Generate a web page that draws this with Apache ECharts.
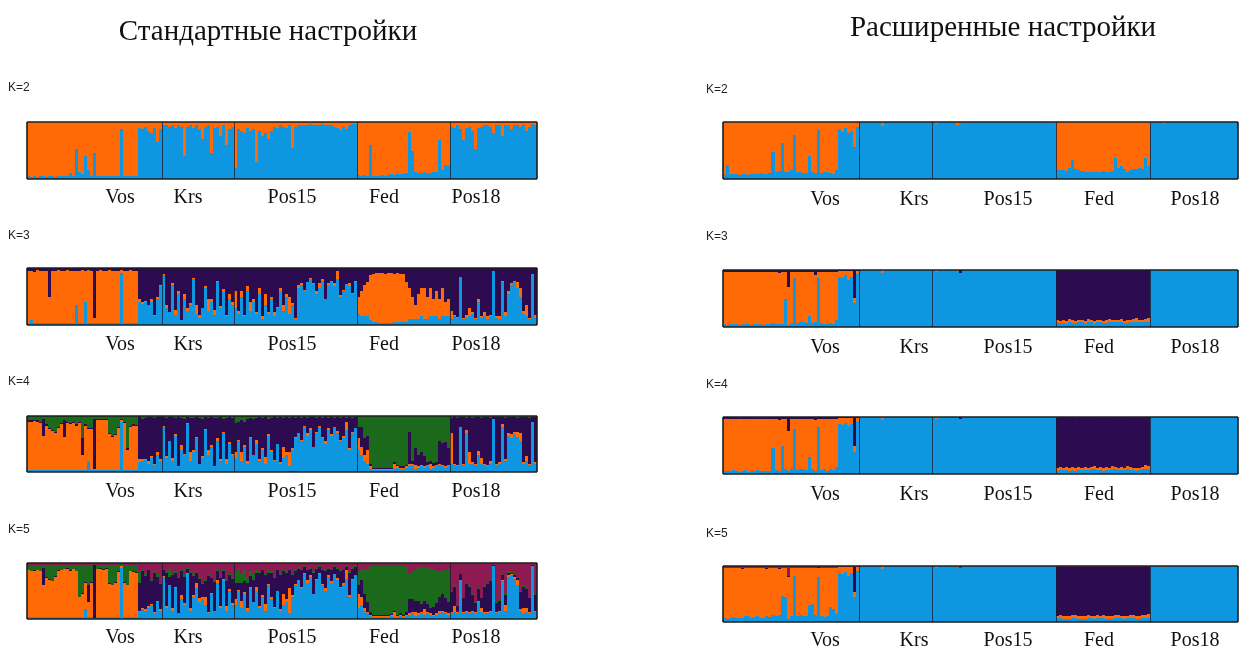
<!DOCTYPE html>
<html><head><meta charset="utf-8">
<script src="https://cdn.jsdelivr.net/npm/echarts/dist/echarts.min.js"></script>
<style>html,body{margin:0;padding:0;background:#fff}#c{width:1241px;height:649px}</style>
</head><body><div id="c"></div>
<script>
// ---------- DATA ----------
const populations = ['Vos','Krs','Pos15','Fed','Pos18'];
const popSizes = [45,24,41,31,29];
const kLabels = ['K=2','K=3','K=4','K=5'];
const titleStd = 'Стандартные настройки';
const titleExt = 'Расширенные настройки';

// Standard settings, K=2 (blue = remainder)
const std_k2_orange = [
95,96,95,96,95,95,96,95,95,96,95,95,94,95,90,94,48,88,92,60,85,94,55,95,94,95,94,95,95,94,95,12,94,95,94,95,94,10,12,8,15,20,10,35,12,
5,6,8,5,10,6,8,60,8,6,10,5,12,30,8,6,55,10,8,25,6,40,12,8,
80,12,15,20,10,15,12,70,15,25,20,30,15,8,10,6,8,10,6,45,8,5,6,5,6,4,5,6,5,4,5,6,5,8,10,14,8,12,6,4,3,
93,94,93,94,40,94,95,94,93,94,93,92,93,92,91,92,90,18,50,88,90,89,88,90,89,88,87,32,85,75,78,
8,10,6,12,32,10,8,15,47,10,8,6,5,8,20,6,5,25,6,5,12,6,5,8,6,15,8,4,6];

// Standard, K=3 (purple = remainder)
const std_k3_blue = [
3,8,3,3,3,3,3,3,3,3,3,3,3,3,3,4,35,3,3,41,3,3,4,3,3,3,3,3,3,3,3,91,3,3,3,3,3,40,37,40,35,40,16,45,68,
88,30,22,70,18,55,8,45,25,35,80,20,12,30,65,25,40,18,75,30,58,15,45,35,
30,20,50,15,60,25,40,20,55,10,35,20,45,15,30,60,25,50,20,35,10,65,70,60,75,80,72,55,65,78,45,70,75,68,80,50,60,72,68,55,75,
20,15,15,15,8,5,5,4,4,4,4,4,5,5,5,5,5,10,10,10,10,15,10,10,15,15,15,10,15,15,15,
10,15,12,85,10,12,15,20,10,41,12,15,10,15,94,12,10,76,15,55,70,75,65,50,20,15,10,90,12];
const std_k3_orange = [
91,87,90,93,92,91,92,47,91,92,93,91,92,93,91,91,60,91,93,54,93,91,8,92,93,91,92,93,92,91,92,5,92,91,93,92,91,5,3,2,0,5,2,5,2,
2,5,0,3,8,4,0,10,5,3,2,15,5,0,3,20,5,8,2,4,6,3,10,5,
30,5,10,3,8,15,5,2,10,5,20,3,5,8,2,5,10,5,30,3,2,5,3,2,0,3,2,5,8,2,0,3,2,5,15,3,2,0,5,2,3,
30,45,55,60,80,85,86,88,87,86,88,87,85,86,85,84,70,55,40,25,45,50,55,40,50,30,45,35,50,25,30,
15,3,2,0,2,5,15,3,2,5,3,8,5,2,0,3,5,2,8,5,3,2,10,15,5,20,3,0,5];

// Standard, K=4 (purple = remainder)
const std_k4_blue = [
3,3,3,3,3,3,3,3,3,3,3,3,3,3,3,3,3,3,3,3,20,3,3,3,3,3,3,3,3,3,3,89,3,3,3,3,3,18,20,22,15,25,12,30,20,
80,25,55,20,65,10,40,30,85,20,35,60,15,25,75,30,45,10,55,20,70,15,50,30,
25,55,20,45,15,60,30,50,20,40,15,65,35,20,50,15,25,30,10,40,60,70,55,80,65,75,45,70,80,60,50,75,65,80,70,55,60,75,40,70,78,
40,30,20,15,5,3,3,3,3,3,3,3,5,8,5,5,8,10,12,5,8,10,8,10,5,8,10,12,10,8,10,
15,12,10,80,12,70,15,15,12,30,15,12,10,15,95,12,15,80,20,65,60,68,62,55,15,20,12,90,15];
const std_k4_orange = [
87,87,88,87,85,62,80,73,70,67,75,82,59,85,83,85,80,85,27,80,56,73,3,90,89,90,90,65,60,63,75,4,85,37,78,80,79,5,3,2,5,3,2,5,3,
2,3,0,5,2,0,8,3,2,15,5,3,0,4,2,10,3,0,5,3,2,8,4,3,
10,2,15,3,5,2,0,8,3,2,12,3,5,2,0,3,20,5,25,3,2,0,3,2,5,3,0,2,3,2,5,3,2,0,3,2,4,15,3,2,0,
20,15,10,25,5,2,2,2,2,2,2,2,10,3,3,3,3,5,3,8,3,3,3,3,10,3,3,3,3,3,3,
55,3,2,0,3,5,20,3,2,8,10,3,2,5,0,3,2,5,3,5,8,3,10,15,3,8,2,0,3];
const std_k4_green = [
8,8,7,8,10,5,15,22,25,28,20,12,8,10,12,10,15,10,40,15,22,22,5,5,6,5,5,30,35,32,20,5,10,58,17,15,16,2,5,3,2,2,3,2,2,
2,3,2,2,3,2,3,5,2,3,4,2,3,5,2,3,2,4,3,2,5,3,2,4,
12,10,8,10,5,3,5,3,2,3,2,5,3,2,3,2,3,2,3,2,3,2,3,2,3,2,2,3,2,3,2,3,2,3,2,3,2,3,2,3,2,
20,20,40,35,85,93,93,93,93,93,93,93,83,87,90,90,87,29,80,57,69,65,71,82,80,84,82,45,49,47,57,
3,2,3,2,2,3,2,3,2,2,3,2,2,3,0,2,2,2,3,2,2,2,3,2,2,2,3,2,2];

// Standard, K=5 (purple = remainder)
const std_k5_blue = [
3,3,3,3,3,3,3,3,3,3,3,3,3,3,3,3,3,3,3,17,3,3,2,3,3,3,3,3,3,3,3,91,3,3,3,3,3,12,18,15,20,25,10,30,15,
75,20,60,15,55,10,35,25,80,15,40,55,30,35,25,10,45,15,65,20,70,15,50,25,
25,50,20,45,15,55,30,50,20,40,15,60,35,20,50,15,25,30,10,40,60,70,55,80,65,75,45,70,80,60,50,75,65,80,70,55,60,72,40,70,78,
20,25,15,10,5,3,3,3,3,3,3,5,3,3,5,3,5,8,10,5,8,10,8,10,8,5,8,10,12,10,8,
10,12,10,70,10,12,10,12,10,30,12,10,10,12,95,10,12,67,15,75,78,72,60,15,10,12,10,95,12];
const std_k5_orange = [
84,82,83,84,82,58,71,67,64,72,83,84,86,87,83,86,82,36,42,48,28,62,0,86,87,85,87,60,57,62,81,3,62,57,82,81,80,3,2,2,3,2,2,3,2,
2,3,0,5,2,0,8,3,2,5,3,10,8,5,15,3,2,0,5,3,2,8,4,3,
10,2,12,3,5,2,0,8,3,2,12,3,5,2,0,3,20,5,45,3,2,0,3,2,5,3,0,2,3,2,5,3,2,0,3,2,4,15,3,2,0,
25,15,5,3,3,2,2,2,2,2,3,2,10,3,2,2,3,3,3,8,3,3,10,3,3,3,3,5,3,3,3,
3,12,2,0,3,2,2,3,2,3,8,3,2,3,0,2,3,2,10,3,2,3,10,3,10,8,3,0,3];
const std_k5_green = [
8,10,8,8,10,5,20,25,28,20,8,8,6,5,8,6,10,55,50,30,35,30,2,6,5,6,5,32,35,30,10,3,30,35,10,10,12,20,5,3,2,3,2,5,3,
2,3,15,2,3,2,3,5,2,3,4,2,3,2,2,3,2,4,3,2,5,3,2,4,
20,25,15,20,10,8,10,5,3,3,2,5,3,2,3,2,3,2,3,2,3,2,3,2,3,2,2,3,2,3,2,3,2,3,2,3,2,3,2,3,2,
25,20,45,60,82,88,88,88,87,88,86,85,80,86,85,86,80,45,50,55,60,65,60,65,70,68,60,45,40,50,60,
2,2,2,0,2,2,2,2,2,2,2,2,2,2,0,2,2,2,2,2,2,2,2,2,2,2,2,0,2];
const std_k5_crimson = [
4,4,5,4,4,4,5,4,4,4,5,4,4,4,5,4,4,5,4,4,4,4,2,4,4,5,4,4,4,4,5,2,4,4,4,5,4,15,10,20,10,30,15,20,35,
10,15,10,20,15,25,12,20,8,15,20,15,25,35,30,20,25,30,12,25,10,30,20,25,
15,10,20,12,25,15,20,12,15,10,20,12,15,25,10,20,12,15,10,20,12,8,10,5,10,8,15,8,5,10,12,8,10,5,8,12,10,5,15,8,6,
15,10,10,10,5,5,5,5,6,5,6,6,5,6,5,6,8,20,15,12,8,8,8,8,10,10,12,15,15,12,10,
50,40,75,20,60,35,40,55,70,45,60,40,35,30,3,70,65,20,55,15,15,20,25,50,40,45,60,3,55];

// Extended settings, K=2 (blue = remainder)
const ext_k2_orange = [
93,75,92,91,92,93,91,92,93,92,91,92,90,91,92,89,52,88,86,37,87,88,85,22,88,87,89,90,60,88,89,14,90,88,87,90,91,85,12,18,10,20,15,43,8,
0,0,0,0,0,0,0,7,0,0,0,0,0,0,0,0,0,0,0,0,0,0,0,0,
0,3,0,0,0,0,0,0,5,0,2,0,0,0,0,0,0,0,0,0,0,0,0,0,0,0,0,0,0,0,0,0,0,0,0,0,0,0,2,0,0,
85,84,85,86,80,67,82,85,86,88,87,88,87,88,87,86,87,88,86,64,80,78,82,88,85,82,83,80,82,64,78,
0,0,0,0,3,0,0,0,0,0,0,0,0,0,0,0,0,0,0,0,0,0,0,0,0,0,0,0,0];

// Extended, K=3 (blue = remainder)
const ext_k3_orange = [
92,93,92,91,92,93,92,91,92,93,92,91,92,93,91,92,90,91,89,92,47,68,90,11,90,88,89,90,78,90,84,11,90,91,92,90,91,85,10,12,8,15,10,9,6,
0,0,0,0,0,0,0,6,0,0,0,0,0,0,0,0,0,0,0,0,0,0,0,0,
0,3,0,0,0,0,0,0,2,0,0,0,0,0,0,0,0,0,0,0,0,0,0,0,0,0,0,0,0,0,0,0,0,0,0,0,0,0,0,0,0,
5,4,5,4,6,5,4,5,4,5,6,4,5,4,5,4,5,6,5,4,5,6,4,5,4,5,6,5,4,5,6,
0,0,0,0,2,0,0,0,0,0,0,0,0,0,0,0,0,0,0,0,0,0,0,0,0,0,0,0,0];
const ext_k3_purple = [
3,3,3,3,3,3,3,3,3,3,3,3,3,3,3,3,3,3,6,3,3,29,3,3,3,3,3,3,3,3,8,3,3,3,3,3,3,3,2,2,1,2,2,49,1,
0,0,0,0,0,0,0,0,0,0,0,0,0,0,0,0,0,0,0,0,0,0,0,0,
0,0,0,0,0,0,0,0,0,5,0,0,0,0,0,0,0,0,0,0,0,0,0,0,0,0,0,0,0,0,0,0,0,0,0,0,0,0,0,0,0,
88,89,88,90,86,88,89,87,88,89,86,88,89,88,87,89,88,86,87,88,87,86,89,88,87,86,85,87,88,86,85,
0,0,0,0,0,0,0,0,0,0,0,0,0,0,0,0,0,0,0,0,0,0,0,0,0,0,0,0,0];

// Extended, K=4 (blue = remainder)
const ext_k4_orange = [
91,92,91,90,92,92,91,90,92,91,92,90,91,92,90,91,52,90,88,48,88,70,89,18,90,88,89,90,68,89,88,14,90,89,91,89,90,84,10,12,9,14,10,12,7,
0,0,0,0,0,0,0,6,0,0,0,0,0,0,0,0,0,0,0,0,0,0,0,0,
0,3,0,0,0,0,0,0,2,0,0,0,0,0,0,0,0,0,0,0,0,0,0,0,0,0,0,0,0,0,0,0,0,0,0,0,0,0,0,0,0,
4,5,4,5,4,6,4,5,4,5,4,5,6,4,5,4,5,4,6,5,4,5,4,6,5,4,5,4,5,6,5,
0,0,0,0,2,0,0,0,0,0,0,0,0,0,0,0,0,0,0,0,0,0,0,0,0,0,0,0,0];
const ext_k4_purple = [
3,3,4,3,3,3,3,3,4,3,3,3,3,3,4,3,3,3,6,3,3,25,3,3,3,3,3,3,3,3,6,3,3,3,3,3,3,3,2,2,1,2,2,50,1,
0,0,0,0,0,0,0,0,0,0,0,0,0,0,0,0,0,0,0,0,0,0,0,0,
0,0,0,0,0,0,0,0,0,4,0,0,0,0,0,0,0,0,0,0,0,0,0,0,0,0,0,0,0,0,0,0,0,0,0,0,0,0,0,0,0,
89,88,89,88,90,87,89,88,89,88,89,87,86,89,88,89,88,89,86,87,89,88,89,86,88,89,88,89,87,85,86,
0,0,0,0,0,0,0,0,0,0,0,0,0,0,0,0,0,0,0,0,0,0,0,0,0,0,0,0,0];
const ext_k4_green = [
0,0,0,0,0,1,0,0,0,0,0,0,1,0,0,0,0,0,0,0,0,0,0,0,0,0,0,0,0,0,0,0,0,0,0,0,0,0,0,0,0,0,0,0,0,
0,0,0,0,0,0,0,0,0,0,0,0,0,0,0,0,0,0,0,0,0,0,0,0,
0,0,0,0,0,0,0,0,0,0,0,0,0,0,0,0,0,0,0,0,0,0,0,0,0,0,0,0,0,0,0,0,0,0,0,0,0,0,0,0,0,
1,0,0,0,0,0,1,0,0,0,0,0,0,0,0,1,0,0,0,0,0,0,0,0,0,0,1,0,0,0,0,
0,0,0,0,0,0,0,0,0,0,0,0,0,0,0,0,0,0,0,0,0,0,0,0,0,0,0,0,0];

// Extended, K=5 (blue = remainder)
const ext_k5_orange = [
88,90,89,87,88,89,87,85,86,88,87,86,88,89,85,87,84,86,83,49,52,76,86,14,85,84,86,85,65,64,84,17,85,87,86,70,72,82,10,13,9,15,11,10,8,
0,0,0,0,0,0,0,6,0,0,0,0,0,0,0,0,0,0,0,0,0,0,0,0,
0,3,0,0,0,0,0,0,2,0,0,0,0,0,0,0,0,0,0,0,0,0,0,0,0,0,0,0,0,0,0,0,0,0,0,0,0,0,0,0,0,
4,5,4,5,4,5,6,4,5,4,5,4,5,6,4,5,4,5,4,6,5,4,5,4,5,6,4,5,4,5,6,
0,0,0,0,2,0,0,0,0,0,0,0,0,0,0,0,0,0,0,0,0,0,0,0,0,0,0,0,0];
const ext_k5_purple = [
1,1,1,1,1,1,1,1,1,1,1,1,1,1,1,1,1,1,1,1,1,1,1,1,1,1,1,1,1,1,1,1,1,1,1,1,1,1,1,1,0,1,1,45,0,
0,0,0,0,0,0,0,0,0,0,0,0,0,0,0,0,0,0,0,0,0,0,0,0,
0,0,0,0,0,0,0,0,0,0,0,0,0,0,0,0,0,0,0,0,0,0,0,0,0,0,0,0,0,0,0,0,0,0,0,0,0,0,0,0,0,
88,87,89,88,89,87,86,89,88,89,87,88,89,86,88,87,89,88,89,86,87,88,89,88,87,86,89,88,87,86,85,
0,0,0,0,0,0,0,0,0,0,0,0,0,0,0,0,0,0,0,0,0,0,0,0,0,0,0,0,0];
const ext_k5_green = [
0,0,0,0,0,0,0,0,0,0,0,0,0,0,0,0,0,0,0,0,0,0,0,0,0,0,0,0,0,0,0,0,0,0,0,0,0,0,0,0,0,0,0,0,0,
0,0,0,0,0,0,0,0,0,0,0,0,0,0,0,0,0,0,0,0,0,0,0,0,
0,0,0,0,0,0,0,0,0,0,0,0,0,0,0,0,0,0,0,0,0,0,0,0,0,0,0,0,0,0,0,0,0,0,0,0,0,0,0,0,0,
0,0,0,0,0,0,0,0,0,0,0,0,0,0,0,0,0,0,0,0,0,0,0,0,0,0,0,0,0,0,0,
0,0,0,0,0,0,0,0,0,0,0,0,0,0,0,0,0,0,0,0,0,0,0,0,0,0,0,0,0];
const ext_k5_crimson = [
3,3,3,3,3,3,4,3,3,3,3,3,3,3,4,3,3,3,4,3,3,18,3,3,3,3,3,3,3,3,3,2,3,3,3,3,3,3,1,1,1,1,1,1,1,
0,0,0,0,0,0,0,0,0,0,0,0,0,0,0,0,0,0,0,0,0,0,0,0,
0,0,0,0,0,0,0,0,0,3,0,0,0,0,0,0,0,0,0,0,0,0,0,0,0,0,0,0,0,0,0,0,0,0,0,0,0,0,0,0,0,
1,1,1,1,1,1,1,1,1,1,1,1,1,1,1,1,1,1,1,1,1,1,1,1,1,1,1,1,1,1,1,
0,0,0,0,0,0,0,0,0,0,0,0,0,0,0,0,0,0,0,0,0,0,0,0,0,0,0,0,0];

// ---------- STYLE / LAYOUT ----------
const COLORS = {blue:'#0f96e0', orange:'#ff6a06', purple:'#2c0b50', green:'#1b6a1c', crimson:'#8e1a52'};
const GRIDS = [
  [27,122,510,57],[27,268,510,57],[27,416,510,56],[27,563,510,56],
  [723,122,515,57],[723,270,515,57],[723,417,515,57],[723,566,515,56]
];
const POP_LABEL_X = [[120,188,292,384,476],[825,914,1008,1099,1195]];
const POP_LABEL_Y = [[198,345,492,638],[200,348,495,641]];
const K_LABEL_X = [8,706];
const K_LABEL_Y = [[88,236,382,530],[90,237,385,534]];
const TITLE_POS = [[268,32],[1003,28]];

const panels = [
  {order:['blue','orange'], stored:{orange:std_k2_orange}},
  {order:['blue','orange','purple'], stored:{blue:std_k3_blue, orange:std_k3_orange}},
  {order:['blue','orange','purple','green'], stored:{blue:std_k4_blue, orange:std_k4_orange, green:std_k4_green}},
  {order:['blue','orange','purple','green','crimson'], stored:{blue:std_k5_blue, orange:std_k5_orange, green:std_k5_green, crimson:std_k5_crimson}},
  {order:['blue','orange'], stored:{orange:ext_k2_orange}},
  {order:['blue','orange','purple'], stored:{orange:ext_k3_orange, purple:ext_k3_purple}},
  {order:['blue','orange','purple','green'], stored:{orange:ext_k4_orange, purple:ext_k4_purple, green:ext_k4_green}},
  {order:['blue','orange','purple','green','crimson'], stored:{orange:ext_k5_orange, purple:ext_k5_purple, green:ext_k5_green, crimson:ext_k5_crimson}}
];

const N = popSizes.reduce((a,b)=>a+b,0);
const boundaries = [];
popSizes.reduce((acc,s,i)=>{ if(i<popSizes.length-1) boundaries.push(acc+s); return acc+s; },0);

const grid=[], xAxis=[], yAxis=[], series=[], graphic=[];
panels.forEach((p,g)=>{
  const [l,t,w,h]=GRIDS[g];
  grid.push({left:l, top:t, width:w, height:h, containLabel:false});
  xAxis.push({type:'value', gridIndex:g, min:0, max:N, show:false});
  yAxis.push({type:'value', gridIndex:g, min:0, max:100, show:false});
  const rest = p.order.find(c=>!p.stored[c]);
  const rows = [];
  for(let i=0;i<N;i++){
    let s=0; for(const c in p.stored) s+=p.stored[c][i];
    rows.push([i, ...p.order.map(c=> c===rest ? Math.max(0,100-s) : p.stored[c][i])]);
  }
  const order = p.order;
  series.push({
    type:'custom', xAxisIndex:g, yAxisIndex:g, silent:true, clip:true,
    data: rows, encode:{x:0, y:1},
    renderItem:(params, api)=>{
      const i = api.value(0);
      const xa = Math.round(api.coord([i,0])[0]);
      const xb = Math.round(api.coord([i+1,0])[0]);
      let acc = 0; const children = [];
      order.forEach((c,k)=>{
        const v = api.value(k+1);
        if(v>0){
          const ya = Math.round(api.coord([i,acc])[1]);
          const yb = Math.round(api.coord([i,acc+v])[1]);
          if(ya-yb>0) children.push({type:'rect', shape:{x:xa, y:yb, width:xb-xa, height:ya-yb}, style:{fill:COLORS[c]}});
        }
        acc += v;
      });
      return {type:'group', children};
    }
  });
  const frame = {color:'#1c1c1c', width:1.6, type:'solid'};
  const sep = {color:'rgba(25,25,45,0.75)', width:1, type:'solid'};
  series.push({
    type:'line', xAxisIndex:g, yAxisIndex:g, data:[], silent:true, z:10,
    markLine:{silent:true, symbol:'none', label:{show:false}, animation:false,
      data:[...boundaries.map(b=>({xAxis:b, lineStyle:sep})),
        {xAxis:0, lineStyle:frame},{xAxis:N, lineStyle:frame},
        {yAxis:0, lineStyle:frame},{yAxis:100, lineStyle:frame}]}
  });
});

// text
const serif = '"Liberation Serif","Times New Roman",serif';
[titleStd,titleExt].forEach((txt,s)=>{
  graphic.push({type:'text', x:TITLE_POS[s][0], y:TITLE_POS[s][1], silent:true,
    style:{text:txt, font:'29px '+serif, fill:'#111', textAlign:'center', textVerticalAlign:'middle'}});
});
[0,1].forEach(s=>{
  kLabels.forEach((k,r)=>{
    graphic.push({type:'text', x:K_LABEL_X[s], y:K_LABEL_Y[s][r], silent:true,
      style:{text:k, font:'12px "Liberation Sans",Arial,sans-serif', fill:'#222', textAlign:'left', textVerticalAlign:'middle'}});
    populations.forEach((pop,j)=>{
      graphic.push({type:'text', x:POP_LABEL_X[s][j], y:POP_LABEL_Y[s][r], silent:true,
        style:{text:pop, font:'20px '+serif, fill:'#111', textAlign:'center', textVerticalAlign:'middle'}});
    });
  });
});

const chart = echarts.init(document.getElementById('c'), null, {renderer:'canvas'});
chart.setOption({animation:false, backgroundColor:'#fff', grid, xAxis, yAxis, series, graphic});
</script>
</body></html>
